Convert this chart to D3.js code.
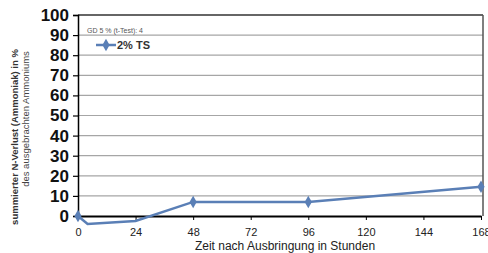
<!DOCTYPE html>
<html>
<head>
<meta charset="utf-8">
<script src="https://cdn.jsdelivr.net/npm/d3@7"></script>
<style>
  body { margin: 0; background: #fff; }
  text { font-family: "Liberation Sans", Arial, sans-serif; }
</style>
</head>
<body>
<svg width="488" height="253"></svg>
<script>
// data
var hours = [0, 4, 24, 48, 96, 168];
var values = [0, -4, -2.5, 7, 7, 14.5];
var xTicks = [0, 24, 48, 72, 96, 120, 144, 168];
var yTicks = [0, 10, 20, 30, 40, 50, 60, 70, 80, 90, 100];
var seriesName = "2% TS";
var noteText = "GD 5 % (t-Test): 4";

var svg = d3.select("svg");
var color = "#5a7fb6";

var x = d3.scaleLinear().domain([0, 168]).range([78, 481]);
var y = d3.scaleLinear().domain([0, 100]).range([216, 15]);

// gridlines
svg.append("g").selectAll("line")
    .data(yTicks.filter(function(d) { return d > 0 && d < 100; }))
    .enter().append("line")
    .attr("x1", 78).attr("x2", 483)
    .attr("y1", function(d) { return y(d); })
    .attr("y2", function(d) { return y(d); })
    .attr("stroke", "#a6a6a6").attr("stroke-width", 1.2);

// frame top / right
svg.append("line").attr("x1", 78).attr("x2", 483).attr("y1", y(100)).attr("y2", y(100))
    .attr("stroke", "#333").attr("stroke-width", 1.5);
svg.append("line").attr("x1", 483).attr("x2", 483).attr("y1", y(100)).attr("y2", y(0))
    .attr("stroke", "#555").attr("stroke-width", 1.5);

// y axis
var yAxis = svg.append("g").attr("transform", "translate(78,0)")
    .call(d3.axisLeft(y).tickValues(yTicks).tickSize(5).tickPadding(4));
yAxis.select(".domain").attr("stroke", "#000").attr("stroke-width", 1.5);
yAxis.selectAll(".tick line").attr("stroke", "#000").attr("stroke-width", 1.2);
yAxis.selectAll("text").attr("font-size", 17).attr("font-weight", "bold").attr("fill", "#111");

// x axis
var xAxis = svg.append("g").attr("transform", "translate(0," + y(0) + ")")
    .call(d3.axisBottom(x).tickValues(xTicks).tickSize(4).tickPadding(8).tickSizeOuter(0));
xAxis.select(".domain").attr("stroke", "#000").attr("stroke-width", 2);
xAxis.selectAll(".tick line").attr("stroke", "#000");
xAxis.selectAll("text").attr("font-size", 11).attr("fill", "#222");

// series line
var line = d3.line()
    .x(function(d, i) { return x(hours[i]); })
    .y(function(d) { return y(d); });
svg.append("path").datum(values)
    .attr("d", line)
    .attr("fill", "none").attr("stroke", color).attr("stroke-width", 2.5);

// markers (points below the axis are hidden)
var diamond = d3.symbol().type(d3.symbolDiamond).size(45);
svg.append("g").selectAll("path")
    .data(values.map(function(v, i) { return { h: hours[i], v: v }; })
        .filter(function(d) { return d.v >= 0; }))
    .enter().append("path")
    .attr("d", diamond)
    .attr("transform", function(d) { return "translate(" + x(d.h) + "," + y(d.v) + ")"; })
    .attr("fill", color);

// legend
svg.append("text").attr("x", 87).attr("y", 33).attr("font-size", 7).attr("fill", "#555")
    .text(noteText);
svg.append("line").attr("x1", 96).attr("x2", 116).attr("y1", 45).attr("y2", 45)
    .attr("stroke", color).attr("stroke-width", 2.5);
svg.append("path").attr("d", diamond).attr("transform", "translate(106,45)").attr("fill", color);
svg.append("text").attr("x", 117).attr("y", 49).attr("font-size", 11).attr("font-weight", "bold")
    .attr("fill", "#333").text(seriesName);

// axis titles
svg.append("text").attr("x", 285).attr("y", 250).attr("text-anchor", "middle")
    .attr("font-size", 12).attr("fill", "#222").text("Zeit nach Ausbringung in Stunden");
svg.append("text").attr("transform", "translate(18,137) rotate(-90)").attr("text-anchor", "middle")
    .attr("font-size", 9.5).attr("font-weight", "bold").attr("fill", "#333")
    .text("summierter N-Verlust (Ammoniak) in %");
svg.append("text").attr("transform", "translate(29,119) rotate(-90)").attr("text-anchor", "middle")
    .attr("font-size", 9.5).attr("fill", "#444")
    .text("des ausgebrachten Ammoniums");
</script>
</body>
</html>
